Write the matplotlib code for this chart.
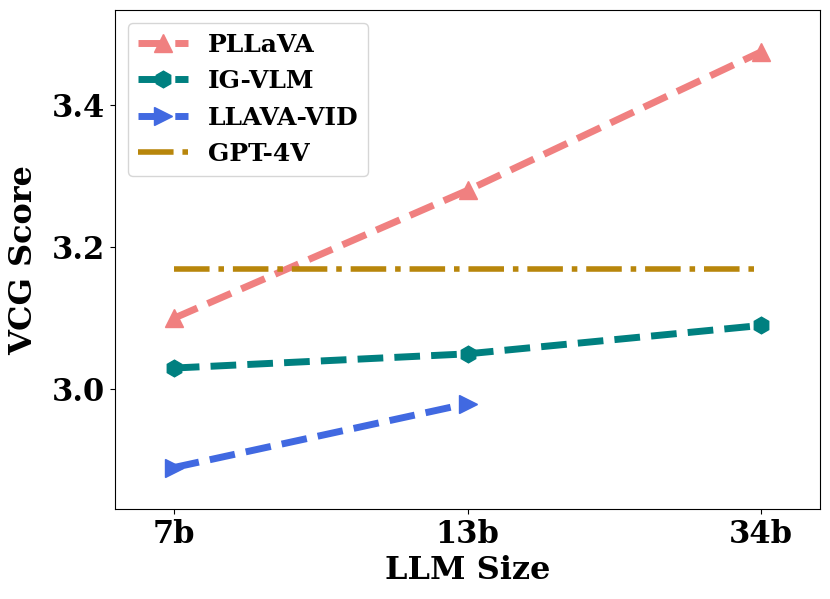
import matplotlib
matplotlib.use("Agg")
import matplotlib.pyplot as plt

sizes = ["7b", "13b", "34b"]
pllava = [3.10, 3.28, 3.475]
igvlm = [3.03, 3.05, 3.09]
llava_vid = [2.89, 2.98]
gpt4v = 3.17

plt.rcParams['font.family'] = ['DejaVu Serif']
plt.rcParams['font.weight'] = 'bold'

fig = plt.figure(figsize=(8.3, 5.99), dpi=100)
ax = fig.add_axes([0.1386, 0.150, 0.8494, 0.833])
x = list(range(len(sizes)))
ax.plot(x, pllava, linestyle='--', color='lightcoral', marker='^', markersize=13, linewidth=5, label='PLLaVA')
ax.plot(x, igvlm, linestyle='--', color='teal', marker='h', markersize=12, linewidth=5, label='IG-VLM')
ax.plot(x[:len(llava_vid)], llava_vid, linestyle='--', color='royalblue', marker='>', markersize=13, linewidth=5, label='LLAVA-VID')
ax.plot(x, [gpt4v] * len(x), linestyle='-.', color='darkgoldenrod', linewidth=4, label='GPT-4V')
ax.margins(0.1)
ax.set_xticks(x)
ax.set_xticklabels(sizes)
ax.set_yticks([3.0, 3.2, 3.4])
ax.tick_params(labelsize=22)
for lab in ax.get_xticklabels() + ax.get_yticklabels():
    lab.set_fontweight('bold')
ax.set_xlabel('LLM Size', fontsize=23, fontweight='bold', labelpad=4)
ax.set_ylabel('VCG Score', fontsize=23, fontweight='bold', labelpad=9)
ax.legend(loc='upper left', prop={'size': 18, 'weight': 'bold'})
fig.savefig('out.png', dpi=100)
